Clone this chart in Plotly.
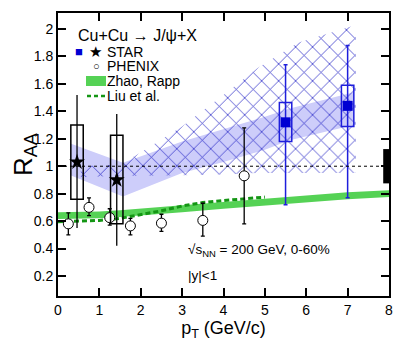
import plotly.graph_objects as go

# STAR low pT (stars) - values, stat errors, syst boxes
star_x = [0.46, 1.42]
star_y = [1.03, 0.90]
star_stat_hi = [1.52, 1.38]
star_stat_lo = [0.55, 0.42]
star_sys_hi = [1.30, 1.225]
star_sys_lo = [0.76, 0.58]

# STAR high pT (blue squares)
starh_x = [5.5, 7.0]
starh_y = [1.32, 1.44]
starh_stat_hi = [1.74, 1.88]
starh_stat_lo = [0.72, 0.77]
starh_sys_hi = [1.465, 1.59]
starh_sys_lo = [1.18, 1.29]

# PHENIX
phx_x = [0.25, 0.75, 1.25, 1.75, 2.5, 3.5, 4.5]
phx_y = [0.58, 0.70, 0.625, 0.565, 0.585, 0.605, 0.93]
phx_hi = [0.66, 0.77, 0.69, 0.62, 0.65, 0.73, 1.28]
phx_lo = [0.50, 0.64, 0.57, 0.50, 0.525, 0.49, 0.58]

# Zhao, Rapp band
zr_x = [0, 1, 1.5, 2, 2.5, 3, 4, 5, 6, 7, 8]
zr_mid = [0.64, 0.645, 0.655, 0.665, 0.675, 0.69, 0.715, 0.74, 0.765, 0.785, 0.80]
zr_hw = 0.025

# Liu et al.
liu_x = [0, 0.5, 1.0, 1.5, 2.0, 2.5, 3.0, 3.5, 4.0, 4.5, 5.0]
liu_y = [0.595, 0.60, 0.605, 0.62, 0.645, 0.675, 0.71, 0.735, 0.75, 0.765, 0.775]

# light blue band
lb_x = [0.3, 1.57, 3.0, 4.0, 5.0, 5.6, 7.15]
lb_hi = [1.165, 1.025, 1.18, 1.27, 1.36, 1.42, 1.54]
lb_lo = [0.935, 0.78, 0.95, 1.03, 1.12, 1.19, 1.30]

# hatched band
hb_x = [0.55, 1.5, 2.0, 3.0, 3.43, 4.0, 4.8, 5.8, 7.2]
hb_hi = [1.0, 1.01, 1.10, 1.29, 1.39, 1.52, 1.71, 1.90, 2.03]
hb_lo = [0.92, 0.93, 0.93, 0.935, 0.94, 0.94, 0.95, 0.95, 0.95]

glob_unc = 0.125

GREEN = "rgb(85,210,85)"
DGREEN = "rgb(20,150,20)"
BLUE = "rgb(0,0,210)"

fig = go.Figure()

fig.add_trace(go.Scatter(x=lb_x + lb_x[::-1], y=lb_hi + lb_lo[::-1], fill="toself",
                         fillcolor="rgb(205,205,250)", line=dict(width=0),
                         mode="lines", showlegend=False, hoverinfo="skip"))
fig.add_trace(go.Scatter(x=hb_x + hb_x[::-1], y=hb_hi + hb_lo[::-1], fill="toself",
                         fillcolor="rgba(0,0,0,0)", line=dict(width=0), mode="lines",
                         fillpattern=dict(shape="x", size=12, solidity=0.12, fgopacity=1,
                                          fgcolor="rgb(45,45,200)", bgcolor="rgba(0,0,0,0)"),
                         showlegend=False, hoverinfo="skip"))

# y = 1 reference line
fig.add_hline(y=1, line=dict(color="black", width=1, dash="dot"))

fig.add_trace(go.Scatter(x=zr_x, y=[m - zr_hw for m in zr_mid], mode="lines",
                         line=dict(width=0, color=GREEN), showlegend=False))
fig.add_trace(go.Scatter(x=zr_x, y=[m + zr_hw for m in zr_mid], mode="lines", fill="tonexty",
                         fillcolor=GREEN, line=dict(width=0, color=GREEN), showlegend=False))
fig.add_trace(go.Scatter(x=liu_x, y=liu_y, mode="lines", showlegend=False,
                         line=dict(color=DGREEN, width=3, dash="5px,3px")))

# systematic boxes
for x, lo, hi in zip(star_x, star_sys_lo, star_sys_hi):
    fig.add_shape(type="rect", x0=x - 0.15, x1=x + 0.15, y0=lo, y1=hi,
                  line=dict(color="black", width=1.5))
for x, lo, hi in zip(starh_x, starh_sys_lo, starh_sys_hi):
    fig.add_shape(type="rect", x0=x - 0.15, x1=x + 0.15, y0=lo, y1=hi,
                  line=dict(color="rgb(30,30,220)", width=1.5))
fig.add_shape(type="rect", x0=7.86, x1=8.0, y0=1 - glob_unc, y1=1 + glob_unc,
              fillcolor="black", line=dict(width=0))

fig.add_trace(go.Scatter(
    x=phx_x, y=phx_y, mode="markers", showlegend=False,
    marker=dict(symbol="circle", size=10, color="white", line=dict(color="black", width=1)),
    error_y=dict(type="data", symmetric=False,
                 array=[h - y for h, y in zip(phx_hi, phx_y)],
                 arrayminus=[y - l for l, y in zip(phx_lo, phx_y)],
                 color="black", thickness=1.3, width=2)))
fig.add_trace(go.Scatter(
    x=starh_x, y=starh_y, mode="markers", showlegend=False,
    marker=dict(symbol="square", size=10, color=BLUE),
    error_y=dict(type="data", symmetric=False,
                 array=[h - y for h, y in zip(starh_stat_hi, starh_y)],
                 arrayminus=[y - l for l, y in zip(starh_stat_lo, starh_y)],
                 color="rgb(30,30,220)", thickness=1.5, width=2)))
fig.add_trace(go.Scatter(
    x=star_x, y=star_y, mode="markers", showlegend=False,
    marker=dict(symbol="star", size=12, color="black"),
    error_y=dict(type="data", symmetric=False,
                 array=[h - y for h, y in zip(star_stat_hi, star_y)],
                 arrayminus=[y - l for l, y in zip(star_stat_lo, star_y)],
                 color="black", thickness=1.3, width=0)))


# legend (drawn in paper coordinates; screen pixels -> paper fraction)
def px(x):
    return (x - 58) / 331


def py(y):
    return (296 - y) / 283


def note(x, y, text, size, color="black", xanchor="left"):
    fig.add_annotation(x=px(x), y=py(y), xref="paper", yref="paper", xanchor=xanchor,
                       yanchor="middle", text=text, showarrow=False, borderpad=0,
                       font=dict(size=size, color=color))


note(77, 35, "Cu+Cu → J/ψ+X", 16)
note(79, 52, "■", 13, BLUE, "center")
note(95, 52, "★", 15, "black", "center")
note(96, 66, "○", 11, "black", "center")
for label, yy in [("STAR", 52), ("PHENIX", 66), ("Zhao, Rapp", 81), ("Liu et al.", 96)]:
    note(106, yy, label, 14)
fig.add_shape(type="rect", xref="paper", yref="paper", x0=px(86), x1=px(106),
              y0=py(86), y1=py(76), fillcolor=GREEN, line=dict(width=0))
fig.add_shape(type="line", xref="paper", yref="paper", x0=px(87), x1=px(105),
              y0=py(96), y1=py(96), line=dict(color=DGREEN, width=2.5, dash="4px,3px"))

fig.add_annotation(x=3.1, y=0.385, text="√s<sub>NN</sub> = 200 GeV, 0-60%", showarrow=False,
                   xanchor="left", yanchor="middle", font=dict(size=13.5, color="black"))
fig.add_annotation(x=3.1, y=0.2, text="|y|<1", showarrow=False,
                   xanchor="left", yanchor="middle", font=dict(size=13.5, color="black"))

axis = dict(showline=True, linewidth=2, linecolor="black", mirror="ticks", ticks="inside",
            ticklen=8, tickwidth=1.5, tickcolor="black", showgrid=False, zeroline=False,
            tickfont=dict(size=14, color="black"), automargin=False)
fig.update_xaxes(range=[0, 8], dtick=1, title=dict(text="p<sub>T</sub> (GeV/c)",
                 font=dict(size=18, color="black"), standoff=4), **axis)
fig.update_yaxes(range=[0.054, 2.117], tickvals=[0.2, 0.4, 0.6, 0.8, 1, 1.2, 1.4, 1.6, 1.8, 2],
                 ticktext=["0.2", "0.4", "0.6", "0.8", "1", "1.2", "1.4", "1.6", "1.8", "2"],
                 title=dict(text="R<sub>AA</sub>", font=dict(size=26, color="black"), standoff=0),
                 **axis)

# page body has an 8px margin, so the figure is sized/offset to land on the window
fig.update_layout(
    width=407, height=333, margin=dict(l=50, r=26, t=5, b=45),
    plot_bgcolor="white", paper_bgcolor="white", showlegend=False,
    font=dict(family="Liberation Sans, Arial, sans-serif", color="black"),
)

fig.write_html("out.html")
